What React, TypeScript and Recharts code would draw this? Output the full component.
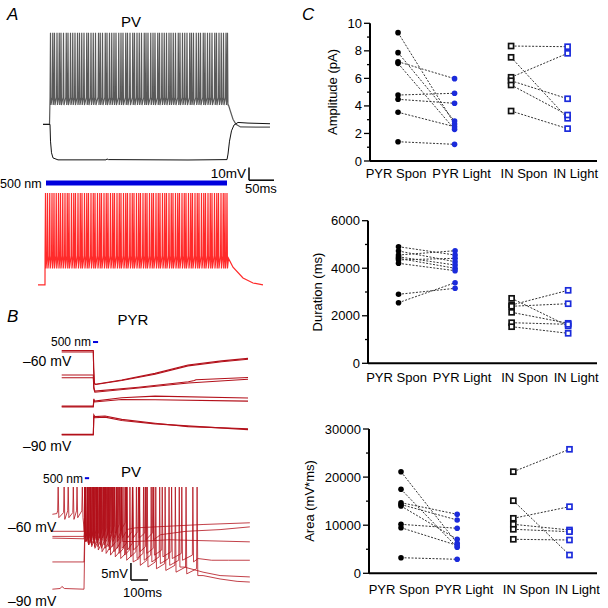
import React from "react";
import { ComposedChart, LineChart, Line, Scatter, XAxis, YAxis, ReferenceLine } from "recharts";

const FONT = "'Liberation Sans', Arial, Helvetica, sans-serif";

// ---------- panel C data ----------
const groups = ["PYR Spon", "PYR Light", "IN Spon", "IN Light"];

const ampPyrSpon = [9.32, 7.87, 7.21, 7.09, 4.79, 4.48, 3.54, 1.4];
const ampPyrLight = [2.69, 2.9, 5.98, 2.3, 4.92, 4.19, 2.49, 1.21];
const ampInSpon = [8.35, 7.53, 6.08, 5.83, 5.52, 3.63];
const ampInLight = [8.3, 3.1, 7.82, 4.52, 3.34, 2.35];

const durPyrSpon = [4906, 4724, 4556, 4480, 4417, 4350, 4207, 2903, 2550];
const durPyrLight = [4556, 4274, 4737, 4135, 3997, 4417, 3896, 3155, 3391];
const durInSpon = [2734, 2453, 2400, 2145, 1708, 1540];
const durInLight = [1570, 3071, 2507, 1683, 1640, 1262];

const areaPyrSpon = [21123, 17464, 14678, 14300, 13992, 10187, 9480, 3243];
const areaPyrLight = [6237, 5405, 12266, 11081, 7069, 9355, 5800, 2911];
const areaInSpon = [21123, 15094, 11435, 10187, 9148, 7069];
const areaInLight = [25780, 3804, 13846, 9002, 8655, 6923];

// ---------- panel A data (ms, mV) ----------
const blackSpikes = [25, 29.5, 33, 38, 42.5, 46, 51, 56.5, 60, 65, 69.5, 74, 79, 83, 87.5, 92, 97.5, 101, 106, 110.5, 115, 121, 124.5, 129, 134.5, 138, 143, 147.5, 152, 156, 161.5, 166, 170, 175.5, 179, 184, 189.5, 193, 198, 202.5, 207, 212.5, 216, 220, 225.5, 230, 234, 239.5, 243, 248, 252.5, 257, 262, 266, 270.5, 275, 280.5, 284, 289, 293.5, 298, 303.5, 307, 311, 316.5, 321, 325, 330.5, 334, 339, 343.5, 348, 353.5, 357, 362, 366.5, 371, 376, 379];
const blackBefore = [[10, -65], [23, -65]];
const blackAfter = [[381, -50], [385, -55], [390, -61], [396, -65], [405, -67], [464, -67.2]];
const hyperTrace = [[10, -65], [24, -65], [25, -78], [27, -87], [30, -91], [40, -92.5], [136, -92.5], [138, -91.8], [141, -92.3], [300, -92.6], [378, -92.3], [380, -88], [383, -78], [387, -70], [392, -65.5], [400, -63.5], [420, -64], [464, -64.5]];

const redSpikes = [15, 19, 23.5, 28, 32, 36.5, 41, 45, 49.5, 54, 58.5, 62, 67, 71.5, 75, 80, 84.5, 88, 93, 97.5, 101, 106, 110.5, 114, 119, 123.5, 127, 132, 136.5, 140, 145, 149.5, 153, 158, 162.5, 166, 171, 175.5, 179, 184, 188.5, 192, 197, 201.5, 205, 210, 214.5, 218, 223, 227.5, 231, 236, 240.5, 244, 249, 253.5, 257, 262, 266.5, 270, 275, 279.5, 283, 288, 292.5, 296, 301, 305.5, 309, 314, 318.5, 322, 327, 331.5, 335, 340, 344.5, 348, 353, 357.5, 361, 366, 370.5, 374, 378];
const redBefore = [[0, -67], [14, -67]];
const redAfter = [[381, -46], [390, -53], [410, -61.5], [430, -65.5], [450, -67]];
const lightA = [16, 378];

// ---------- panel B data ----------
const pyrTraces = [
  [[10, -55.8], [196, -55.8], [198, -62], [202, -67.6], [210, -67.9], [363, -66.4], [559, -64], [753, -61], [951, -59.5], [1106, -58.6]],
  [[10, -56.3], [196, -56.3], [198, -62.5], [202, -67.8], [210, -68], [363, -66.6], [559, -64.3], [753, -61.3], [951, -59.8], [1106, -58.9]],
  [[10, -64.6], [196, -64.6], [199, -69], [205, -70.4], [461, -69], [755, -67], [790, -66.6], [800, -66.3], [1106, -65.5]],
  [[10, -65.6], [196, -65.6], [199, -69.5], [205, -70.8], [461, -69.3], [755, -67.5], [1106, -66.1]],
  [[10, -75.8], [196, -75.8], [199, -73.2], [203, -74], [363, -72.8], [559, -72.2], [1106, -72.9]],
  [[10, -76.1], [196, -76.1], [199, -73.5], [203, -74.3], [363, -73.4], [559, -73.5], [1106, -74]],
  [[10, -86], [196, -86], [199, -79], [205, -79.6], [265, -79.4], [363, -80.6], [559, -82], [753, -83.2], [1106, -84]],
  [[10, -86.2], [196, -86.2], [199, -79.6], [205, -80], [265, -79.8], [363, -81], [559, -82.2], [1106, -84.3]],
];
const lightPyr = [194, 224];

const pvPeak = -40;
const pvSweeps = [
  {
    before: [[14, -48], [40, -47.8]],
    spikes: [[48, -49], [83, -49.5], [107, -49], [137, -49.5], [159, -49], [190, -49], [205, -55], [222, -55.5], [240, -55], [258, -54.5], [275, -54.5], [292, -54.5], [312, -54], [333, -54], [355, -53.5], [380, -53.5], [410, -53], [445, -52.5]],
    after: [[500, -52], [700, -51.5], [900, -51], [1175, -50.5]],
  },
  {
    before: [[14, -53], [200, -53]],
    spikes: [[204, -55], [218, -56], [233, -56], [250, -55.5], [268, -55.5], [287, -55], [305, -55], [326, -55], [347, -55], [370, -55], [395, -55], [422, -55], [452, -55], [485, -55], [520, -55], [560, -55.5], [605, -55.5]],
    after: [[650, -54], [800, -53], [1000, -52.5], [1175, -51.7]],
  },
  {
    before: [[14, -55], [200, -55.2]],
    spikes: [[206, -56], [220, -56.5], [236, -56.5], [253, -56.5], [272, -56.5], [292, -57], [314, -57], [337, -57.5], [362, -57.5], [390, -58], [420, -58], [452, -58.5], [487, -58.5], [525, -59], [565, -59.5], [610, -60], [660, -60.5], [715, -61], [775, -61.5], [840, -62]],
    after: [[870, -61], [950, -61.5], [1050, -61.5], [1175, -61.5]],
  },
  {
    before: [[14, -62], [200, -62]],
    spikes: [[207, -56], [223, -57], [240, -57], [258, -57.5], [277, -57.5], [298, -58], [320, -58], [345, -58.5], [372, -59], [402, -59.5], [435, -60], [470, -60.5], [508, -61], [550, -61.5], [595, -62], [645, -62.5], [700, -63], [760, -63.5]],
    after: [[790, -63.5], [900, -65], [1000, -66], [1175, -66.4]],
  },
  {
    before: [[14, -70], [60, -69.8], [70, -69.2], [85, -69.8], [200, -70]],
    spikes: [[208, -56], [224, -57], [241, -57.5], [260, -58], [280, -58.5], [302, -59], [326, -59.5], [352, -60], [380, -60.5], [412, -61], [447, -61.5], [485, -62], [527, -63], [572, -63.5], [622, -64], [677, -64.5], [737, -65], [800, -65.5], [865, -66]],
    after: [[900, -66], [1000, -67], [1100, -67.7], [1175, -67.9]],
  },
  {
    before: [[14, -54.5], [200, -54.5]],
    spikes: [[205, -55], [221, -55.5], [238, -55.5], [256, -55.5], [276, -55.5], [296, -55.5], [318, -56], [341, -56], [366, -56], [393, -56], [423, -56]],
    after: [[500, -56], [700, -55.5], [1175, -56.1]],
  },
];
const lightPv = [205, 230];

// ---------- helpers ----------
const pts = (arr: number[][]) => arr.map(([t, v]) => ({ t, v }));

function fixedTrain(before: number[][], spikes: number[], peak: number, pre: number, post: number, after: number[][]) {
  const out = pts(before);
  spikes.forEach((t) => {
    out.push({ t: t - 0.9, v: pre }, { t, v: peak }, { t: t + 0.9, v: post });
  });
  return out.concat(pts(after));
}

// each spike: rise from just above its trough, clipped peak, back to trough
function pvTrain(s: { before: number[][]; spikes: number[][]; after: number[][] }) {
  const out = pts(s.before);
  s.spikes.forEach(([t, trough]) => {
    out.push({ t: t - 3, v: trough + 2 }, { t, v: pvPeak }, { t: t + 4, v: trough });
  });
  return out.concat(pts(s.after));
}

const blackTrace = fixedTrain(blackBefore, blackSpikes, 6, -44, -50, blackAfter);
const redTrace = fixedTrain(redBefore, redSpikes, 5.85, -44, -54, redAfter);

const LABEL_SHIFT = [-2, 7, 13, 8];

function PairChart(props: any) {
  const { top, height, mTop, mBottom, yWidth, xDomain, yDomain, majors, minors, spon, light, inSpon, inLight, labelDy } = props;
  const lines = [
    ...spon.map((v: number, i: number) => [{ x: 1, y: v }, { x: 2, y: light[i] }]),
    ...inSpon.map((v: number, i: number) => [{ x: 3, y: v }, { x: 4, y: inLight[i] }]),
  ];
  const ticks = [...majors, ...minors].sort((a: number, b: number) => a - b);
  const yTick = (p: any) => {
    const major = majors.includes(p.payload.value);
    return (
      <g>
        <line x1={p.x + (major ? 2 : 5)} x2={p.x + 8} y1={p.y} y2={p.y} stroke="#000" strokeWidth={1.3} />
        {major && (
          <text x={p.x} y={p.y} dy={4.5} textAnchor="end" fontSize={13} fontFamily={FONT} fill="#000">
            {p.payload.value}
          </text>
        )}
      </g>
    );
  };
  const xTick = (p: any) => {
    const i = p.payload.value - 1;
    return (
      <text x={p.x + LABEL_SHIFT[i]} y={p.y} dy={labelDy} textAnchor="middle" fontSize={13} fontFamily={FONT} fill="#000">
        {groups[i]}
      </text>
    );
  };
  const dot = (c: string) => (p: any) => <circle cx={p.cx} cy={p.cy} r={2.8} fill={c} />;
  const box = (c: string) => (p: any) => (
    <rect x={p.cx - 2.5} y={p.cy - 2.5} width={5} height={5} fill="#fff" stroke={c} strokeWidth={1.7} />
  );
  return (
    <div style={{ position: "absolute", left: 300, top }}>
      <ComposedChart width={300} height={height} margin={{ top: mTop, right: 3, bottom: mBottom, left: 0 }}>
        <XAxis type="number" dataKey="x" domain={xDomain} ticks={[1, 2, 3, 4]} interval={0} tickLine={false} tickSize={0} tickMargin={0} height={25} axisLine={{ stroke: "#000", strokeWidth: 2 }} tick={xTick} allowDataOverflow />
        <YAxis type="number" dataKey="y" domain={yDomain} ticks={ticks} interval={0} width={yWidth} tickLine={false} tickSize={6} tickMargin={2} axisLine={{ stroke: "#000", strokeWidth: 2 }} tick={yTick} allowDataOverflow />
        {lines.map((d: any, i: number) => (
          <Line key={i} data={d} dataKey="y" stroke="#333" strokeWidth={1} strokeDasharray="2 1.5" dot={false} isAnimationActive={false} />
        ))}
        <Scatter data={spon.map((y: number) => ({ x: 1, y }))} shape={dot("#000")} isAnimationActive={false} />
        <Scatter data={light.map((y: number) => ({ x: 2, y }))} shape={dot("#1b2bdb")} isAnimationActive={false} />
        <Scatter data={inSpon.map((y: number) => ({ x: 3, y }))} shape={box("#111")} isAnimationActive={false} />
        <Scatter data={inLight.map((y: number) => ({ x: 4, y }))} shape={box("#1b2bdb")} isAnimationActive={false} />
      </ComposedChart>
    </div>
  );
}

const txt = (x: number, y: number, s: string, size = 13, anchor = "start", italic = false) => (
  <text x={x} y={y} fontSize={size} textAnchor={anchor as any} fontStyle={italic ? "italic" : "normal"} fontFamily={FONT} fill="#000">
    {s}
  </text>
);

export default function App() {
  return (
    <div style={{ position: "absolute", left: 0, top: 0, width: 608, height: 608, background: "#fff", overflow: "hidden" }}>
      {/* A: black */}
      <div style={{ position: "absolute", left: 38, top: 25 }}>
        <LineChart width={240} height={151} margin={{ top: 0, right: 0, bottom: 0, left: 0 }}>
          <XAxis type="number" dataKey="t" domain={[0, 480]} hide />
          <YAxis type="number" dataKey="v" domain={[-105, 12]} hide />
          <Line data={blackTrace} dataKey="v" stroke="#5a5a5a" strokeWidth={1.2} dot={false} isAnimationActive={false} />
          <Line data={pts(hyperTrace)} dataKey="v" stroke="#111" strokeWidth={1} dot={false} isAnimationActive={false} />
        </LineChart>
      </div>
      {/* A: red */}
      <div style={{ position: "absolute", left: 38, top: 160 }}>
        <LineChart width={240} height={135} margin={{ top: 0, right: 0, bottom: 0, left: 0 }}>
          <XAxis type="number" dataKey="t" domain={[0, 480]} hide />
          <YAxis type="number" dataKey="v" domain={[-75, 32]} hide />
          <ReferenceLine segment={[{ x: lightA[0], y: 13.8 }, { x: lightA[1], y: 13.8 }]} stroke="#0000dd" strokeWidth={5} />
          <ReferenceLine segment={[{ x: 422, y: 16 }, { x: 422, y: 26 }]} stroke="#000" strokeWidth={1.5} />
          <ReferenceLine segment={[{ x: 422, y: 16 }, { x: 472, y: 16 }]} stroke="#000" strokeWidth={1.5} />
          <Line data={redTrace} dataKey="v" stroke="#ff2a2a" strokeWidth={1.2} dot={false} isAnimationActive={false} />
        </LineChart>
      </div>
      {/* B: PYR */}
      <div style={{ position: "absolute", left: 60, top: 329 }}>
        <LineChart width={195.5} height={122} margin={{ top: 0, right: 0, bottom: 0, left: 0 }}>
          <XAxis type="number" dataKey="t" domain={[0, 1150]} hide />
          <YAxis type="number" dataKey="v" domain={[-92, -48]} hide />
          <ReferenceLine segment={[{ x: lightPyr[0], y: -52.7 }, { x: lightPyr[1], y: -52.7 }]} stroke="#0000dd" strokeWidth={2} />
          {pyrTraces.map((tr, i) => (
            <Line key={i} data={pts(tr)} dataKey="v" stroke="#b3101a" strokeWidth={1.1} dot={false} isAnimationActive={false} />
          ))}
        </LineChart>
      </div>
      {/* B: PV */}
      <div style={{ position: "absolute", left: 50, top: 470 }}>
        <LineChart width={200} height={126} margin={{ top: 0, right: 0, bottom: 0, left: 0 }}>
          <XAxis type="number" dataKey="t" domain={[0, 1176]} hide />
          <YAxis type="number" dataKey="v" domain={[-72, -35]} hide />
          <ReferenceLine segment={[{ x: lightPv[0], y: -37.4 }, { x: lightPv[1], y: -37.4 }]} stroke="#0000dd" strokeWidth={2} />
          <ReferenceLine segment={[{ x: 476, y: -62.3 }, { x: 476, y: -67.3 }]} stroke="#000" strokeWidth={1.5} />
          <ReferenceLine segment={[{ x: 476, y: -67.3 }, { x: 576, y: -67.3 }]} stroke="#000" strokeWidth={1.5} />
          {pvSweeps.map((s, i) => (
            <Line key={i} data={pvTrain(s)} dataKey="v" stroke="#b3101a" strokeWidth={0.8} dot={false} isAnimationActive={false} />
          ))}
        </LineChart>
      </div>
      {/* C */}
      <PairChart top={10} height={180} mTop={13.3} mBottom={4} yWidth={70} xDomain={[0.504, 4.52]} yDomain={[0, 10]} majors={[0, 2, 4, 6, 8, 10]} minors={[1, 3, 5, 7, 9]} spon={ampPyrSpon} light={ampPyrLight} inSpon={ampInSpon} inLight={ampInLight} labelDy={17} />
      <PairChart top={205} height={185} mTop={15.7} mBottom={1.7} yWidth={68} xDomain={[0.46, 4.51]} yDomain={[0, 6000]} majors={[0, 2000, 4000, 6000]} minors={[1000, 3000, 5000]} spon={durPyrSpon} light={durPyrLight} inSpon={durInSpon} inLight={durInLight} labelDy={18.5} />
      <PairChart top={415} height={185} mTop={14} mBottom={1.7} yWidth={69} xDomain={[0.43, 4.49]} yDomain={[0, 30000]} majors={[0, 10000, 20000, 30000]} minors={[5000, 15000, 25000]} spon={areaPyrSpon} light={areaPyrLight} inSpon={areaInSpon} inLight={areaInLight} labelDy={21} />
      {/* texts */}
      <svg width={608} height={608} style={{ position: "absolute", left: 0, top: 0, pointerEvents: "none" }}>
        {txt(7, 20, "A", 17, "start", true)}
        {txt(131, 27, "PV", 15, "middle")}
        {txt(246, 178, "10mV", 13.5, "end")}
        {txt(245, 193, "50ms", 13)}
        {txt(0, 188, "500 nm", 12.5)}
        {txt(7, 322, "B", 17, "start", true)}
        {txt(133, 325, "PYR", 15, "middle")}
        {txt(91, 346, "500 nm", 12, "end")}
        {txt(23, 366, "–60 mV", 14)}
        {txt(23, 451, "–90 mV", 14)}
        {txt(131, 477, "PV", 15, "middle")}
        {txt(83, 483, "500 nm", 12, "end")}
        {txt(8, 532, "–60 mV", 14)}
        {txt(8, 606, "–90 mV", 14)}
        {txt(128, 578, "5mV", 13, "end")}
        {txt(123, 597, "100ms", 13)}
        {txt(302, 20, "C", 17, "start", true)}
        <text transform="translate(337,92) rotate(-90)" textAnchor="middle" fontSize={13} fontFamily={FONT}>Amplitude (pA)</text>
        <text transform="translate(322,292) rotate(-90)" textAnchor="middle" fontSize={13} fontFamily={FONT}>Duration (ms)</text>
        <text transform="translate(314,501) rotate(-90)" textAnchor="middle" fontSize={13} fontFamily={FONT}>Area (mV*ms)</text>
      </svg>
    </div>
  );
}
